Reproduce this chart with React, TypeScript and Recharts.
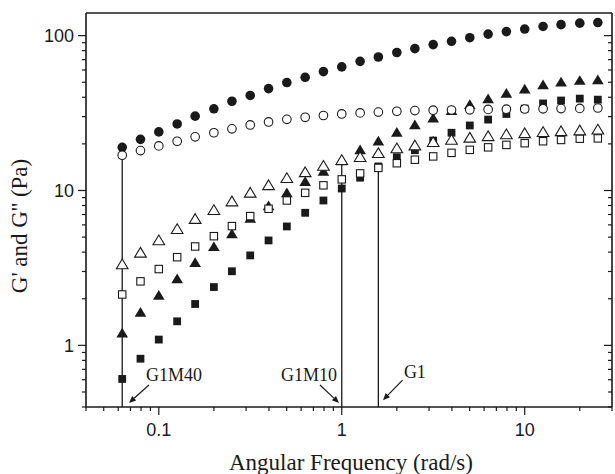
import { ScatterChart, Scatter, XAxis, YAxis, ReferenceLine, ReferenceDot, Label } from "recharts";

// angular frequency (rad/s), 10 points per decade
const freq = [
  0.0631, 0.0794, 0.1, 0.126, 0.158, 0.2, 0.251, 0.316, 0.398, 0.501, 0.631, 0.794, 1, 1.26, 1.585, 2, 2.51,
  3.16, 3.98, 5.01, 6.31, 7.94, 10, 12.6, 15.8, 20, 25.1,
];

// G1M40: circles (filled = G', open = G'')
const g1m40Storage = [
  19.0, 21.4, 23.9, 26.9, 30.2, 33.7, 37.7, 41.1, 45.5, 49.8, 53.8, 58.6, 62.8, 68.2, 72.8, 77.8, 82.4, 87.5,
  91.9, 97.0, 102.3, 106.2, 110.3, 114.6, 117.7, 120.4, 121.5,
];
const g1m40Loss = [
  16.9, 18.1, 19.4, 20.8, 22.2, 23.6, 25.0, 26.5, 27.7, 28.8, 29.7, 30.5, 31.2, 31.7, 32.1, 32.5, 32.8, 33.0,
  33.1, 33.2, 33.4, 33.5, 33.6, 33.7, 33.8, 33.9, 34.1,
];

// G1M10: triangles
const g1m10Storage = [
  1.2, 1.63, 2.1, 2.69, 3.42, 4.33, 5.25, 6.6, 7.96, 9.66, 11.4, 13.3, 15.5, 18.3, 20.8, 23.7, 26.5, 29.3, 32.8,
  35.8, 39.0, 42.4, 45.1, 48.0, 50.0, 51.3, 51.8,
];
const g1m10Loss = [
  3.33, 3.96, 4.76, 5.63, 6.54, 7.47, 8.49, 9.66, 10.8, 12.0, 13.1, 14.4, 15.7, 16.4, 17.4, 18.7, 19.5, 20.5,
  21.2, 21.9, 22.4, 23.0, 23.4, 23.8, 24.1, 24.4, 24.7,
];

// G1: squares
const g1Storage = [
  0.607, 0.82, 1.09, 1.43, 1.85, 2.38, 3.01, 3.81, 4.76, 5.86, 7.18, 8.62, 10.3, 12.1, 14.3, 16.4, 18.2, 21.0,
  23.6, 26.3, 28.7, 31.2, 33.8, 36.5, 38.1, 39.2, 38.6,
];
const g1Loss = [
  2.13, 2.59, 3.11, 3.71, 4.35, 5.07, 5.89, 6.83, 7.62, 8.62, 9.66, 10.8, 11.8, 12.9, 14.0, 15.0, 15.8, 16.6,
  17.5, 18.3, 19.0, 19.7, 20.2, 20.8, 21.2, 21.6, 21.7,
];

const xTicks = [
  0.04, 0.05, 0.06, 0.07, 0.08, 0.09, 0.1, 0.2, 0.3, 0.4, 0.5, 0.6, 0.7, 0.8, 0.9, 1, 2, 3, 4, 5, 6, 7, 8, 9, 10,
  20, 30,
];
const yTicks = [
  0.4, 0.5, 0.6, 0.7, 0.8, 0.9, 1, 2, 3, 4, 5, 6, 7, 8, 9, 10, 20, 30, 40, 50, 60, 70, 80, 90, 100,
];

const X_DOMAIN = [0.04, 30];
const Y_DOMAIN = [0.4, 140];

// vertical markers: sample name, frequency, top of the drop line
const dropLines = [
  { name: "G1M40", x: freq[0], y: g1m40Storage[0] },
  { name: "G1M10", x: freq[12], y: g1m10Loss[12] },
  { name: "G1", x: freq[14], y: g1Loss[14] },
];

// arrow annotations (data coordinates)
const annotations = [
  { text: "G1M40", tx: 0.121, ty: 0.644, from: [0.0883, 0.555], to: [0.0687, 0.425] },
  { text: "G1M10", tx: 0.662, ty: 0.644, from: [0.76, 0.555], to: [0.966, 0.425] },
  { text: "G1", tx: 2.51, ty: 0.676, from: [2.15, 0.597], to: [1.68, 0.443] },
];

const toPoints = (ys: number[]) => freq.map((x, i) => ({ x, y: ys[i] }));

const INK = "#1a1a1a";
const SANS = "'Liberation Sans', Arial, sans-serif";
const SERIF = "'Liberation Serif', 'Times New Roman', serif";

const isMajor = (v: number) => Math.abs(Math.log10(v) - Math.round(Math.log10(v))) < 1e-6;
const MAJOR = 8;
const MINOR = 4;

function BottomTick({ x, y, payload }: any) {
  const major = isMajor(payload.value);
  return (
    <g>
      <line x1={x} y1={y} x2={x} y2={y + (major ? MAJOR : MINOR)} stroke={INK} strokeWidth={1.2} />
      {major && (
        <text x={x} y={y + 23} dy="0.35em" textAnchor="middle" fontFamily={SANS} fontSize={18} fill={INK}>
          {String(payload.value)}
        </text>
      )}
    </g>
  );
}

function TopTick({ x, y, payload }: any) {
  const major = isMajor(payload.value);
  return <line x1={x} y1={y} x2={x} y2={y + (major ? MAJOR : MINOR)} stroke={INK} strokeWidth={1.2} />;
}

function LeftTick({ x, y, payload }: any) {
  const major = isMajor(payload.value);
  return (
    <g>
      <line x1={x} y1={y} x2={x - (major ? MAJOR : MINOR)} y2={y} stroke={INK} strokeWidth={1.2} />
      {major && (
        <text x={x - 12} y={y} dy="0.36em" textAnchor="end" fontFamily={SANS} fontSize={18} fill={INK}>
          {String(payload.value)}
        </text>
      )}
    </g>
  );
}

function RightTick({ x, y, payload }: any) {
  const major = isMajor(payload.value);
  return <line x1={x} y1={y} x2={x - (major ? MAJOR : MINOR)} y2={y} stroke={INK} strokeWidth={1.2} />;
}

const XTitle = ({ viewBox }: any) => (
  <text x={viewBox.x + viewBox.width / 2 + 2} y={viewBox.y + 63} textAnchor="middle" fontFamily={SERIF} fontSize={23} fill={INK}>
    Angular Frequency (rad/s)
  </text>
);

const YTitle = ({ viewBox }: any) => {
  const cx = 19;
  const cy = viewBox.y + viewBox.height / 2 + 16;
  return (
    <text x={cx} y={cy} dy="0.35em" transform={`rotate(-90, ${cx}, ${cy})`} textAnchor="middle" fontFamily={SERIF} fontSize={23} fill={INK}>
      G' and G'' (Pa)
    </text>
  );
};

const filledCircle = (p: any) => <circle cx={p.cx} cy={p.cy} r={4.8} fill={INK} />;
const openCircle = (p: any) => <circle cx={p.cx} cy={p.cy} r={4.3} fill="#fff" stroke={INK} strokeWidth={1.1} />;

const triangle = (filled: boolean) => (p: any) => {
  const s = 5.4;
  const pts = `${p.cx},${p.cy - s} ${p.cx + s * 1.08},${p.cy + s * 0.8} ${p.cx - s * 1.08},${p.cy + s * 0.8}`;
  return filled ? (
    <polygon points={pts} fill={INK} />
  ) : (
    <polygon points={pts} fill="#fff" stroke={INK} strokeWidth={1.1} />
  );
};

const square = (filled: boolean) => (p: any) => {
  const h = filled ? 3.9 : 3.7;
  return filled ? (
    <rect x={p.cx - h} y={p.cy - h} width={h * 2} height={h * 2} fill={INK} />
  ) : (
    <rect x={p.cx - h} y={p.cy - h} width={h * 2} height={h * 2} fill="#fff" stroke={INK} strokeWidth={1.1} />
  );
};

const arrowShape = (p: any) => {
  const { x1, y1, x2, y2 } = p;
  const dx = x2 - x1;
  const dy = y2 - y1;
  const len = Math.hypot(dx, dy) || 1;
  const ux = dx / len;
  const uy = dy / len;
  const hl = 7;
  const hw = 3;
  const bx = x2 - ux * hl;
  const by = y2 - uy * hl;
  const pts = `${x2},${y2} ${bx - uy * hw},${by + ux * hw} ${bx + uy * hw},${by - ux * hw}`;
  return (
    <g>
      <line x1={x1} y1={y1} x2={bx} y2={by} stroke={INK} strokeWidth={1.2} />
      <polygon points={pts} fill={INK} />
    </g>
  );
};

const series = [
  { key: "g1m40Storage", data: g1m40Storage, shape: filledCircle },
  { key: "g1m10Storage", data: g1m10Storage, shape: triangle(true) },
  { key: "g1Storage", data: g1Storage, shape: square(true) },
  { key: "g1Loss", data: g1Loss, shape: square(false) },
  { key: "g1m10Loss", data: g1m10Loss, shape: triangle(false) },
  { key: "g1m40Loss", data: g1m40Loss, shape: openCircle },
];

export default function App() {
  return (
    <div style={{ position: "absolute", left: 0, top: 0, width: 615, height: 474, background: "#fff" }}>
      <ScatterChart width={615} height={474} margin={{ top: 12, right: 2, bottom: 0, left: 0 }}>
        <XAxis
          xAxisId="bottom"
          dataKey="x"
          type="number"
          scale="log"
          domain={X_DOMAIN}
          allowDataOverflow
          ticks={xTicks}
          interval={0}
          height={67}
          tickSize={0}
          tickMargin={0}
          tick={<BottomTick />}
          axisLine={{ stroke: INK, strokeWidth: 1.6 }}
        >
          <Label content={<XTitle />} />
        </XAxis>
        <XAxis
          xAxisId="top"
          orientation="top"
          type="number"
          scale="log"
          domain={X_DOMAIN}
          allowDataOverflow
          ticks={xTicks}
          interval={0}
          height={1}
          tickSize={0}
          tickMargin={0}
          tick={<TopTick />}
          axisLine={{ stroke: INK, strokeWidth: 1.6 }}
        />
        <YAxis
          yAxisId="left"
          dataKey="y"
          type="number"
          scale="log"
          domain={Y_DOMAIN}
          allowDataOverflow
          ticks={yTicks}
          interval={0}
          width={86}
          tickSize={0}
          tickMargin={0}
          tick={<LeftTick />}
          axisLine={{ stroke: INK, strokeWidth: 1.6 }}
        >
          <Label content={<YTitle />} />
        </YAxis>
        <YAxis
          yAxisId="right"
          orientation="right"
          type="number"
          scale="log"
          domain={Y_DOMAIN}
          allowDataOverflow
          ticks={yTicks}
          interval={0}
          width={1}
          tickSize={0}
          tickMargin={0}
          tick={<RightTick />}
          axisLine={{ stroke: INK, strokeWidth: 1.6 }}
        />

        {dropLines.map((d) => (
          <ReferenceLine
            key={d.name}
            xAxisId="bottom"
            yAxisId="left"
            ifOverflow="visible"
            segment={[
              { x: d.x, y: d.y },
              { x: d.x, y: Y_DOMAIN[0] },
            ]}
            stroke={INK}
            strokeWidth={1.3}
          />
        ))}

        {series.map((s) => (
          <Scatter
            key={s.key}
            xAxisId="bottom"
            yAxisId="left"
            data={toPoints(s.data)}
            shape={s.shape}
            isAnimationActive={false}
          />
        ))}

        {annotations.map((a) => (
          <ReferenceLine
            key={"arrow-" + a.text}
            xAxisId="bottom"
            yAxisId="left"
            ifOverflow="visible"
            segment={[
              { x: a.from[0], y: a.from[1] },
              { x: a.to[0], y: a.to[1] },
            ]}
            shape={arrowShape}
          />
        ))}
        {annotations.map((a) => (
          <ReferenceDot
            key={"label-" + a.text}
            xAxisId="bottom"
            yAxisId="left"
            x={a.tx}
            y={a.ty}
            ifOverflow="visible"
            shape={(p: any) => (
              <text x={p.cx} y={p.cy} dy="0.35em" textAnchor="middle" fontFamily={SERIF} fontSize={18} fill={INK}>
                {a.text}
              </text>
            )}
          />
        ))}
      </ScatterChart>
    </div>
  );
}
